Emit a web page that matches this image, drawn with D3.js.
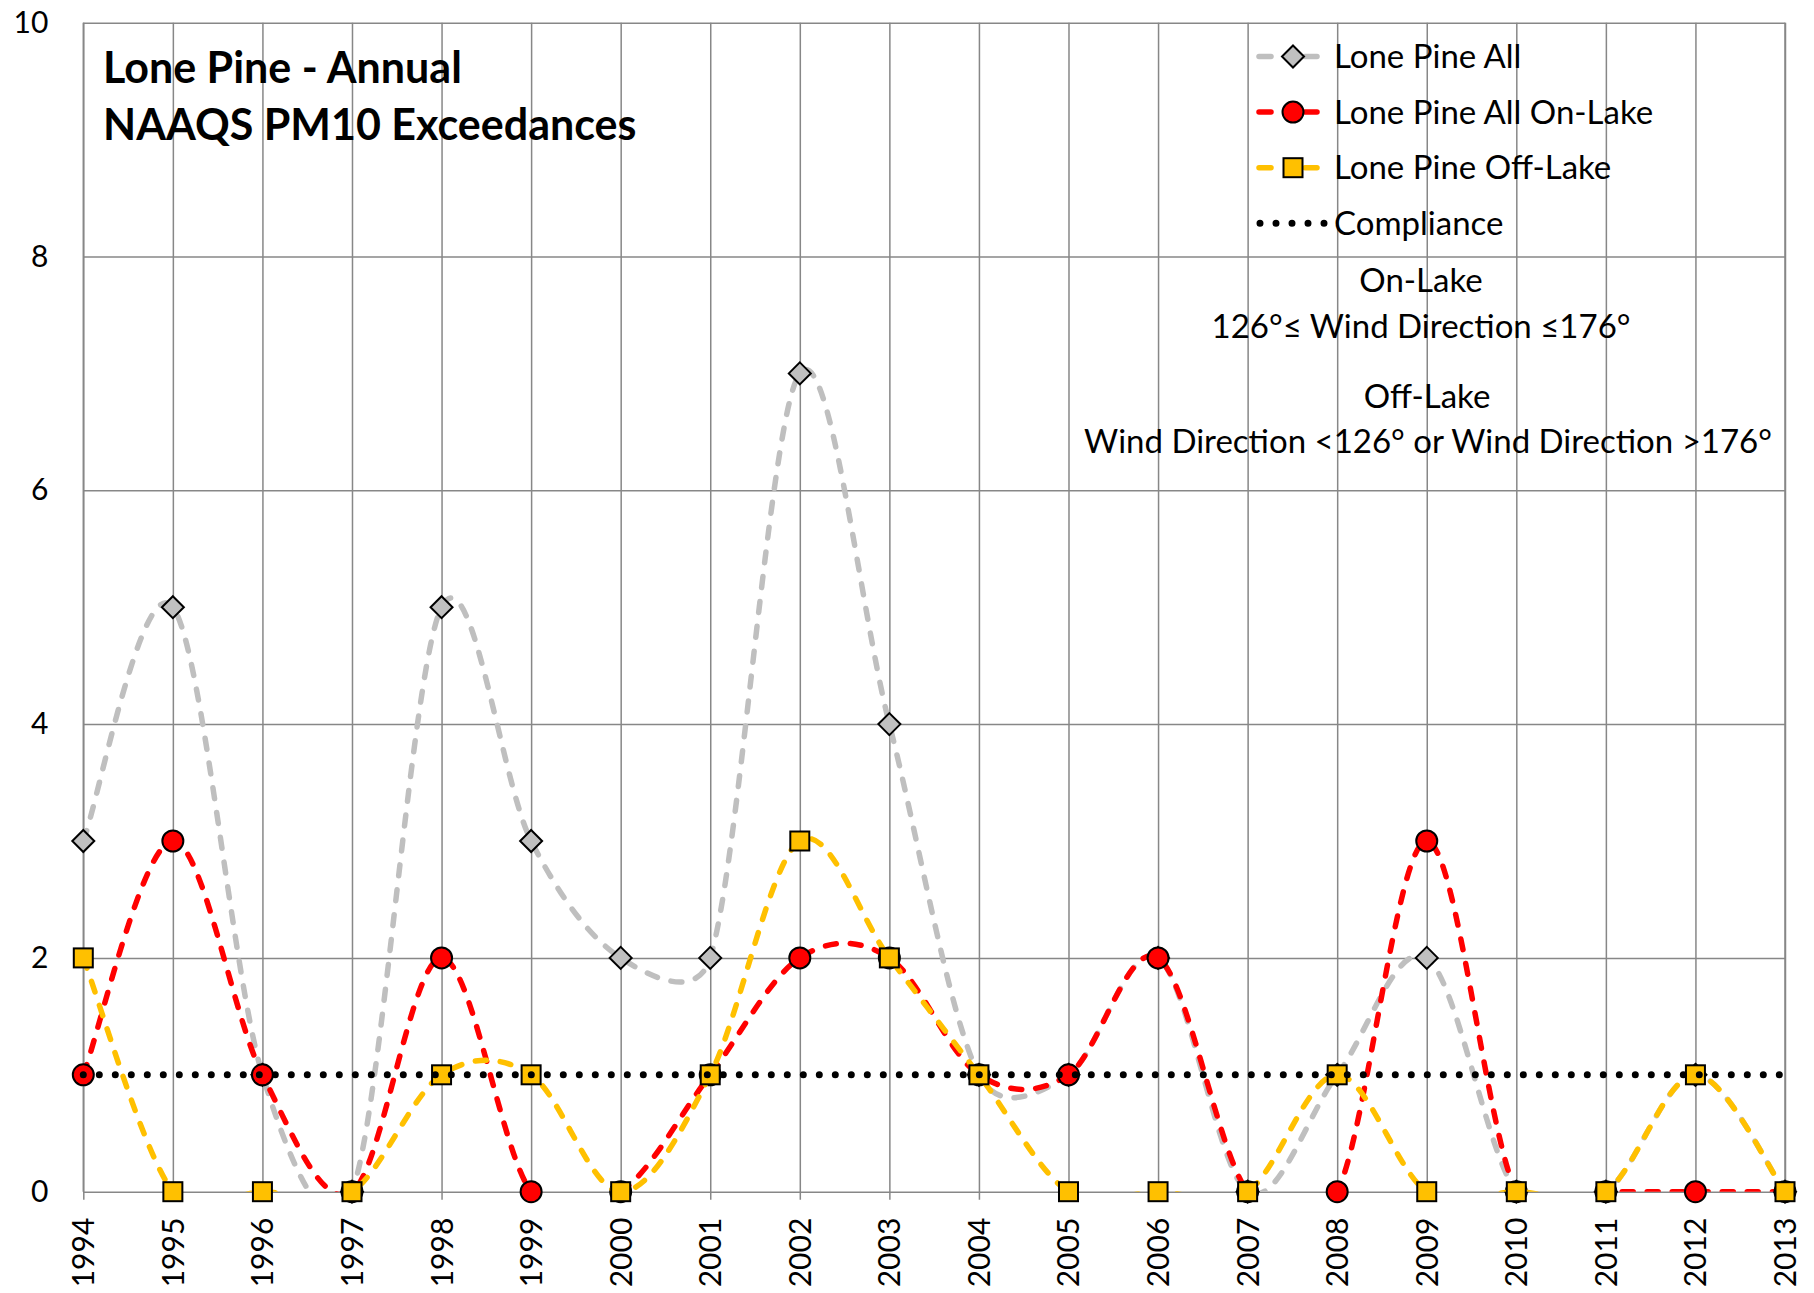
<!DOCTYPE html>
<html>
<head>
<meta charset="utf-8">
<script src="https://cdn.jsdelivr.net/npm/d3@7"></script>
<style>
  body { margin: 0; background: #fff; }
  text { font-family: Lato, "Open Sans", sans-serif; fill: #000; }
</style>
</head>
<body>
<div id="vis"></div>
<script>
// chart size
var width = 1814;
var height = 1293;

// data
var years = ["1994", "1995", "1996", "1997", "1998", "1999", "2000", "2001", "2002", "2003",
             "2004", "2005", "2006", "2007", "2008", "2009", "2010", "2011", "2012", "2013"];
var lonePineAll =    [3, 5, 1, 0, 5, 3, 2, 2, 7, 4, 1, 1, 2, 0, 1, 2, 0, 0, 1, 0];
var lonePineOnLake = [1, 3, 1, 0, 2, 0, 0, 1, 2, 2, 1, 1, 2, 0, 0, 3, 0, 0, 0, 0];
var lonePineOffLake = [2, 0, 0, 0, 1, 1, 0, 1, 3, 2, 1, 0, 0, 0, 1, 0, 0, 0, 1, 0];
var compliance = 1;
var yTicks = [0, 2, 4, 6, 8, 10];

var seriesNames = ["Lone Pine All", "Lone Pine All On-Lake", "Lone Pine Off-Lake", "Compliance"];
var titleLines = ["Lone Pine - Annual", "NAAQS PM10 Exceedances"];
var noteLines = ["On-Lake", "126°≤ Wind Direction ≤176°", "Off-Lake", "Wind Direction <126° or Wind Direction >176°"];

var margin = {top: 22.7, bottom: 101.3, left: 83.3, right: 29};
var plotW = width - margin.left - margin.right;
var plotH = height - margin.top - margin.bottom;

var svg = d3.select('#vis')
    .append('svg')
    .attr('width', width)
    .attr('height', height);

var g = svg.append('g')
    .attr('transform', 'translate(' + margin.left + ',' + margin.top + ')');

var x_scale = d3.scalePoint()
    .domain(years)
    .range([0, plotW]);

var y_scale = d3.scaleLinear()
    .domain([0, 10])
    .range([plotH, 0]);

var gridColour = "#878787";

// vertical gridlines (one for every year) + bottom axis
var x_axis = d3.axisBottom(x_scale).tickSize(-plotH).tickPadding(0);
var xg = g.append('g')
    .attr('class', 'x axis')
    .attr('transform', 'translate(0,' + plotH + ')')
    .call(x_axis);
xg.select('.domain').remove();
xg.selectAll('line').attr('stroke', gridColour).attr('stroke-width', 1.5)
    .attr('y2', -plotH).attr('y1', 8);
xg.selectAll('text')
    .attr('transform', 'rotate(-90)')
    .attr('text-anchor', 'end')
    .attr('x', -26)
    .attr('y', 0)
    .attr('dy', '0.35em')
    .style('font-size', '30px');

// horizontal gridlines + left labels
var y_axis = d3.axisLeft(y_scale).tickValues(yTicks).tickSize(-plotW).tickPadding(35);
var yg = g.append('g')
    .attr('class', 'y axis')
    .call(y_axis);
yg.select('.domain').remove();
yg.selectAll('line').attr('stroke', gridColour).attr('stroke-width', 1.5);
yg.selectAll('text').style('font-size', '30px');

// plot border on left and right
g.append('line').attr('x1', 0).attr('x2', 0).attr('y1', 0).attr('y2', plotH)
    .attr('stroke', gridColour).attr('stroke-width', 1.5);
g.append('line').attr('x1', plotW).attr('x2', plotW).attr('y1', 0).attr('y2', plotH)
    .attr('stroke', gridColour).attr('stroke-width', 1.5);

g.append('clipPath').attr('id', 'plotclip')
    .append('rect').attr('x', 0).attr('y', 0).attr('width', plotW).attr('height', plotH);

// excel style smoothing: bezier, arm = min(|P0P2|/6, |P1P2|/2) along P0->P2
function dist(a, b) {
    return Math.sqrt((a[0] - b[0]) * (a[0] - b[0]) + (a[1] - b[1]) * (a[1] - b[1]));
}
function smoothLine(values) {
    var pts = values.map(function (d, i) { return [x_scale(years[i]), y_scale(d)]; });
    var p = d3.path();
    p.moveTo(pts[0][0], pts[0][1]);
    for (var i = 0; i < pts.length - 1; i++) {
        var p0 = pts[i - 1] || pts[i];
        var p1 = pts[i];
        var p2 = pts[i + 1];
        var p3 = pts[i + 2] || pts[i + 1];
        var d12 = dist(p1, p2);
        var d02 = dist(p0, p2);
        var d13 = dist(p1, p3);
        var f1 = d02 > 0 ? Math.min(1 / 6, d12 / 2 / d02) : 0;
        var f2 = d13 > 0 ? Math.min(1 / 6, d12 / 2 / d13) : 0;
        p.bezierCurveTo(
            p1[0] + (p2[0] - p0[0]) * f1, p1[1] + (p2[1] - p0[1]) * f1,
            p2[0] - (p3[0] - p1[0]) * f2, p2[1] - (p3[1] - p1[1]) * f2,
            p2[0], p2[1]);
    }
    return p.toString();
}

var series = [
    {name: seriesNames[0], values: lonePineAll, colour: "#BFBFBF", fill: "#C0C0C0", marker: "diamond"},
    {name: seriesNames[1], values: lonePineOnLake, colour: "#FF0000", fill: "#FF0000", marker: "circle"},
    {name: seriesNames[2], values: lonePineOffLake, colour: "#FFC000", fill: "#FFC000", marker: "square"}
];

function drawMarker(sel, type, fill) {
    if (type == "diamond") {
        sel.append('path').attr('d', 'M0,-11L11,0L0,11L-11,0Z');
    } else if (type == "circle") {
        sel.append('circle').attr('r', 10.5);
    } else {
        sel.append('rect').attr('x', -9.5).attr('y', -9.5).attr('width', 19).attr('height', 19);
    }
    sel.selectAll('path,circle,rect')
        .attr('fill', fill)
        .attr('stroke', 'black')
        .attr('stroke-width', 2);
}

series.forEach(function (s) {
    g.append('path')
        .attr('clip-path', 'url(#plotclip)')
        .attr('fill', 'none')
        .attr('stroke', s.colour)
        .attr('stroke-width', 5.5)
        .attr('stroke-linecap', 'round')
        .attr('stroke-dasharray', '11,14')
        .attr('d', smoothLine(s.values));

    g.selectAll('.mk-' + s.marker)
        .data(s.values)
        .enter().append('g')
        .attr('class', 'mk-' + s.marker)
        .attr('transform', function (d, i) {
            return 'translate(' + x_scale(years[i]) + ',' + y_scale(d) + ')';
        })
        .each(function () { drawMarker(d3.select(this), s.marker, s.fill); });
});

// compliance line (dots)
g.append('line')
    .attr('x1', x_scale(years[0])).attr('x2', x_scale(years[years.length - 1]))
    .attr('y1', y_scale(compliance)).attr('y2', y_scale(compliance))
    .attr('stroke', 'black')
    .attr('stroke-width', 7)
    .attr('stroke-linecap', 'round')
    .attr('stroke-dasharray', '0,16');

// title
svg.selectAll('.title').data(titleLines)
    .enter().append('text')
    .attr('class', 'title')
    .attr('x', 103)
    .attr('y', function (d, i) { return 83 + i * 57; })
    .style('font-size', '43px')
    .style('font-weight', 'bold')
    .text(function (d) { return d; });

// legend
var legend = svg.selectAll('.lineLegend').data(seriesNames)
    .enter().append('g')
    .attr('class', 'lineLegend')
    .attr('transform', function (d, i) {
        return 'translate(1257,' + (56.5 + i * 55.6) + ')';
    });

legend.each(function (d, i) {
    var lg = d3.select(this);
    if (i < 3) {
        lg.append('line').attr('x1', 2).attr('x2', 14)
            .attr('stroke', series[i].colour).attr('stroke-width', 5.5).attr('stroke-linecap', 'round');
        lg.append('line').attr('x1', 48).attr('x2', 60)
            .attr('stroke', series[i].colour).attr('stroke-width', 5.5).attr('stroke-linecap', 'round');
        var mk = lg.append('g').attr('transform', 'translate(36,0)');
        drawMarker(mk, series[i].marker, series[i].fill);
    } else {
        lg.append('line').attr('x1', 3).attr('x2', 68)
            .attr('stroke', 'black').attr('stroke-width', 7)
            .attr('stroke-linecap', 'round').attr('stroke-dasharray', '0,16');
    }
    lg.append('text')
        .attr('x', 77)
        .attr('dy', '0.35em')
        .style('font-size', '33px')
        .text(d);
});

// wind direction notes
var noteY = [280, 326, 396, 441];
var noteX = [1421, 1421, 1427, 1428];
svg.selectAll('.note').data(noteLines)
    .enter().append('text')
    .attr('class', 'note')
    .attr('text-anchor', 'middle')
    .attr('x', function (d, i) { return noteX[i]; })
    .attr('y', function (d, i) { return noteY[i]; })
    .attr('dy', '0.35em')
    .style('font-size', '33px')
    .text(function (d) { return d; });
</script>
</body>
</html>
